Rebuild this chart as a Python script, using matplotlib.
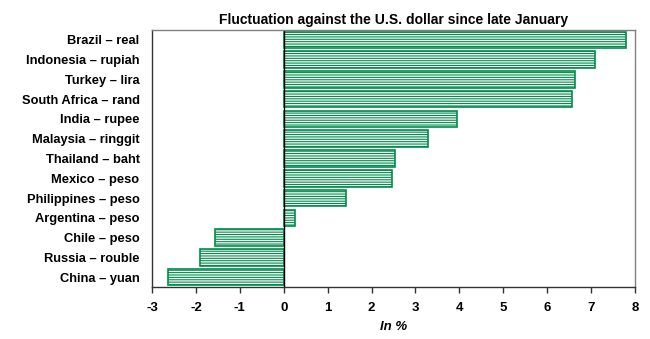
import matplotlib.pyplot as plt
import numpy as np

plt.rcParams['font.family'] = ['Liberation Sans', 'DejaVu Sans']
plt.rcParams['hatch.linewidth'] = 0.8

currencies = ["Brazil – real", "Indonesia – rupiah", "Turkey – lira",
              "South Africa – rand", "India – rupee", "Malaysia – ringgit",
              "Thailand – baht", "Mexico – peso", "Philippines – peso",
              "Argentina – peso", "Chile – peso", "Russia – rouble",
              "China – yuan"]
change_pct = [7.79, 7.08, 6.63, 6.57, 3.95, 3.29, 2.53, 2.46, 1.41,
              0.25, -1.56, -1.90, -2.63]
x_ticks = [-3, -2, -1, 0, 1, 2, 3, 4, 5, 6, 7, 8]

green = "#008C4A"

fig = plt.figure(figsize=(6.5, 3.39), dpi=100)
ax = fig.add_axes([152 / 650, 1 - 287 / 339, (635 - 152) / 650, (287 - 30) / 339])

y = np.arange(len(currencies))
ax.barh(y, change_pct, height=0.84, color="white", edgecolor=green,
        hatch="-------", linewidth=1.2)

ax.axvline(0, color="black", linewidth=1.0)
ax.set_xlim(-3, 8)
ax.set_ylim(len(currencies) - 0.5, -0.5)
ax.set_xticks(x_ticks)
ax.set_xticklabels([str(t) for t in x_ticks], fontsize=9.5, fontweight="bold")
ax.set_yticks(y)
ax.set_yticklabels(currencies, fontsize=9.3, fontweight="bold")
ax.tick_params(axis="y", length=0, pad=9)
ax.tick_params(axis="x", direction="out", length=4, width=1, color="#333333", pad=7)

for side in ["top", "right"]:
    ax.spines[side].set_color("#808080")
    ax.spines[side].set_linewidth(1.0)
for side in ["left", "bottom"]:
    ax.spines[side].set_color("#333333")
    ax.spines[side].set_linewidth(1.0)

ax.set_xlabel("In %", fontsize=9.5, fontweight="bold", fontstyle="italic", labelpad=5)
ax.set_title("Fluctuation against the U.S. dollar since late January",
             fontsize=10, fontweight="bold", pad=4)

fig.savefig("out.png", dpi=100)
